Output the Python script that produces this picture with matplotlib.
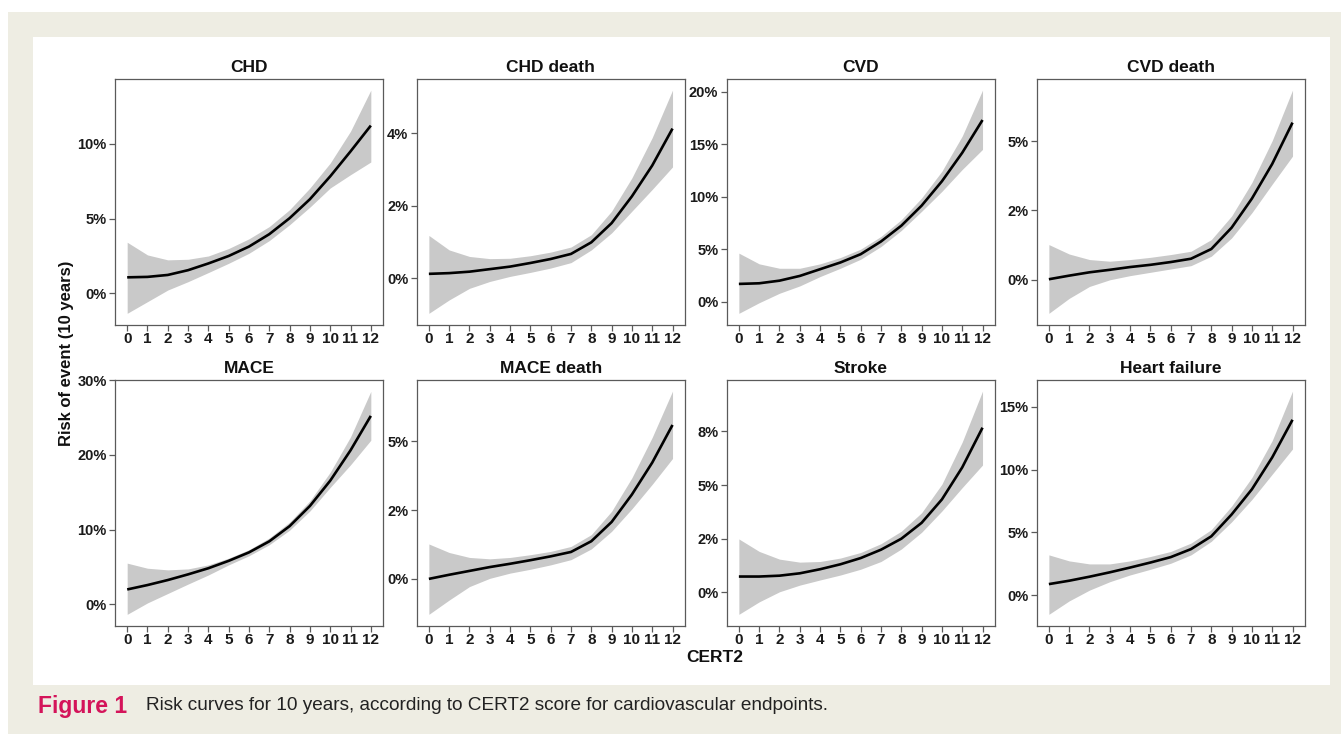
#!/usr/bin/env python3
# -*- coding: utf-8 -*-

import numpy as np
import matplotlib
matplotlib.use("Agg")
import matplotlib.pyplot as plt
from matplotlib.patches import Rectangle

plt.rcParams["font.family"] = ["Liberation Sans", "DejaVu Sans"]

# ====== Data (% risk at CERT2 = 0..12) ======
cert2 = np.arange(0, 13)
x_ticks = list(range(0, 13))

titles = ["CHD", "CHD death", "CVD", "CVD death",
          "MACE", "MACE death", "Stroke", "Heart failure"]

chd_mean = [1.07, 1.10, 1.23, 1.55, 2.00, 2.50, 3.13, 3.96, 5.03, 6.30, 7.83, 9.50, 11.23]
chd_upper = [3.42, 2.57, 2.24, 2.28, 2.50, 3.00, 3.65, 4.47, 5.60, 7.05, 8.72, 10.85, 13.60]
chd_lower = [-1.34, -0.56, 0.22, 0.78, 1.39, 2.01, 2.68, 3.53, 4.59, 5.77, 7.05, 7.94, 8.79]

chd_death_mean = [0.12, 0.14, 0.18, 0.25, 0.32, 0.42, 0.53, 0.67, 0.99, 1.52, 2.26, 3.11, 4.13]
chd_death_upper = [1.18, 0.78, 0.60, 0.54, 0.55, 0.62, 0.72, 0.86, 1.20, 1.85, 2.77, 3.88, 5.19]
chd_death_lower = [-0.97, -0.60, -0.28, -0.09, 0.05, 0.16, 0.28, 0.43, 0.78, 1.25, 1.85, 2.45, 3.07]

cvd_mean = [1.69, 1.75, 2.00, 2.45, 3.09, 3.73, 4.52, 5.73, 7.23, 9.14, 11.46, 14.17, 17.29]
cvd_upper = [4.62, 3.60, 3.18, 3.18, 3.60, 4.20, 5.00, 6.21, 7.80, 9.87, 12.42, 15.76, 20.13]
cvd_lower = [-1.11, -0.10, 0.80, 1.50, 2.39, 3.18, 4.04, 5.25, 6.78, 8.60, 10.50, 12.58, 14.49]

cvd_death_mean = [0.02, 0.15, 0.27, 0.36, 0.46, 0.54, 0.64, 0.76, 1.11, 1.88, 2.93, 4.18, 5.67]
cvd_death_upper = [1.27, 0.93, 0.73, 0.67, 0.73, 0.81, 0.91, 1.03, 1.45, 2.30, 3.51, 5.02, 6.84]
cvd_death_lower = [-1.21, -0.67, -0.24, 0.00, 0.15, 0.27, 0.39, 0.51, 0.85, 1.51, 2.42, 3.45, 4.46]

mace_mean = [1.98, 2.57, 3.24, 4.00, 4.82, 5.81, 6.94, 8.42, 10.45, 13.15, 16.53, 20.59, 25.20]
mace_upper = [5.50, 4.82, 4.60, 4.73, 5.27, 6.17, 7.30, 8.87, 10.99, 13.83, 17.66, 22.39, 28.47]
mace_lower = [-1.35, 0.18, 1.44, 2.70, 3.92, 5.27, 6.49, 7.97, 9.91, 12.48, 15.63, 18.65, 21.94]

mace_death_mean = [0.00, 0.15, 0.29, 0.43, 0.55, 0.68, 0.82, 0.98, 1.37, 2.07, 3.07, 4.23, 5.60]
mace_death_upper = [1.27, 0.96, 0.78, 0.73, 0.78, 0.88, 1.00, 1.18, 1.61, 2.46, 3.68, 5.15, 6.83]
mace_death_lower = [-1.29, -0.77, -0.28, 0.02, 0.21, 0.35, 0.51, 0.70, 1.09, 1.73, 2.55, 3.44, 4.38]

stroke_mean = [0.74, 0.74, 0.78, 0.89, 1.08, 1.31, 1.60, 1.99, 2.50, 3.24, 4.33, 5.82, 7.67]
stroke_upper = [2.49, 1.91, 1.55, 1.41, 1.44, 1.60, 1.86, 2.27, 2.85, 3.71, 5.04, 7.00, 9.37]
stroke_lower = [-1.02, -0.44, 0.03, 0.34, 0.58, 0.81, 1.08, 1.44, 2.02, 2.80, 3.79, 4.88, 5.93]

hf_mean = [0.88, 1.15, 1.47, 1.82, 2.20, 2.60, 3.03, 3.67, 4.69, 6.43, 8.44, 10.98, 13.98]
hf_upper = [3.21, 2.73, 2.49, 2.49, 2.73, 3.08, 3.48, 4.15, 5.22, 7.10, 9.38, 12.32, 16.26]
hf_lower = [-1.53, -0.46, 0.40, 1.07, 1.61, 2.06, 2.54, 3.21, 4.29, 5.84, 7.63, 9.64, 11.65]

means = [chd_mean, chd_death_mean, cvd_mean, cvd_death_mean,
         mace_mean, mace_death_mean, stroke_mean, hf_mean]
uppers = [chd_upper, chd_death_upper, cvd_upper, cvd_death_upper,
          mace_upper, mace_death_upper, stroke_upper, hf_upper]
lowers = [chd_lower, chd_death_lower, cvd_lower, cvd_death_lower,
          mace_lower, mace_death_lower, stroke_lower, hf_lower]

# y tick positions and the (rounded) labels printed in the figure
y_ticks = [
    [0, 5, 10],
    [0, 2, 4],
    [0, 5, 10, 15, 20],
    [0, 2.5, 5],
    [0, 10, 20, 30],
    [0, 2.5, 5],
    [0, 2.5, 5, 7.5],
    [0, 5, 10, 15],
]
y_labels = [
    ["0%", "5%", "10%"],
    ["0%", "2%", "4%"],
    ["0%", "5%", "10%", "15%", "20%"],
    ["0%", "2%", "5%"],
    ["0%", "10%", "20%", "30%"],
    ["0%", "2%", "5%"],
    ["0%", "2%", "5%", "8%"],
    ["0%", "5%", "10%", "15%"],
]

# ====== Figure ======
W, H = 1341, 734
fig = plt.figure(figsize=(W / 100, H / 100), dpi=100)
fig.patch.set_facecolor("white")

# page background: beige frame and white inner panel
fig.patches.append(Rectangle((8 / W, 0), 1, 1 - 12 / H, transform=fig.transFigure,
                             facecolor="#eeede3", edgecolor="none", zorder=-10))
fig.patches.append(Rectangle((33 / W, 1 - 685 / H), (1330 - 33) / W, (685 - 37) / H,
                             transform=fig.transFigure, facecolor="white",
                             edgecolor="none", zorder=-9))

col_left = [115, 416.7, 726.7, 1036.7]
row_top = [79, 380]
ax_w, ax_h = 268, 245.5

spine_col = "#5a5a5a"
tick_col = "#1a1a1a"

for i in range(8):
    r, c = divmod(i, 4)
    left = col_left[c] / W
    bottom = 1 - (row_top[r] + ax_h) / H
    ax = fig.add_axes([left, bottom, ax_w / W, ax_h / H])

    ax.fill_between(cert2, lowers[i], uppers[i], color="#c9c9c9", linewidth=0)
    ax.plot(cert2, means[i], color="black", linewidth=1.9, solid_capstyle="butt")

    ax.margins(x=0.05, y=0.05)
    ax.set_xticks(x_ticks)
    ax.set_yticks(y_ticks[i], y_labels[i])
    ax.set_title(titles[i], fontsize=12.5, fontweight="bold", pad=5, color="#111111")

    for sp in ax.spines.values():
        sp.set_color(spine_col)
        sp.set_linewidth(0.9)
    ax.tick_params(axis="both", colors=spine_col, length=4, width=0.9,
                   labelcolor=tick_col)
    ax.tick_params(axis="x", labelsize=11, pad=1.5)
    ax.tick_params(axis="y", labelsize=10.5, pad=2)
    for lab in ax.get_xticklabels() + ax.get_yticklabels():
        lab.set_fontweight("bold")

fig.text(67 / W, 1 - 353 / H, "Risk of event (10 years)", rotation=90,
         ha="center", va="center", fontsize=12, fontweight="bold", color="#111111")
fig.text(715 / W, 1 - 658 / H, "CERT2", ha="center", va="center",
         fontsize=12.5, fontweight="bold", color="#111111")

# caption
cap_y = 1 - 706 / H
fig.text(38 / W, cap_y, "Figure 1", ha="left", va="center", fontsize=16.5,
         fontweight="bold", color="#d4145a")
fig.text(146 / W, cap_y,
         "Risk curves for 10 years, according to CERT2 score for cardiovascular endpoints.",
         ha="left", va="center", fontsize=13.7, color="#222222")

fig.savefig("out.png", dpi=100)
plt.close(fig)
